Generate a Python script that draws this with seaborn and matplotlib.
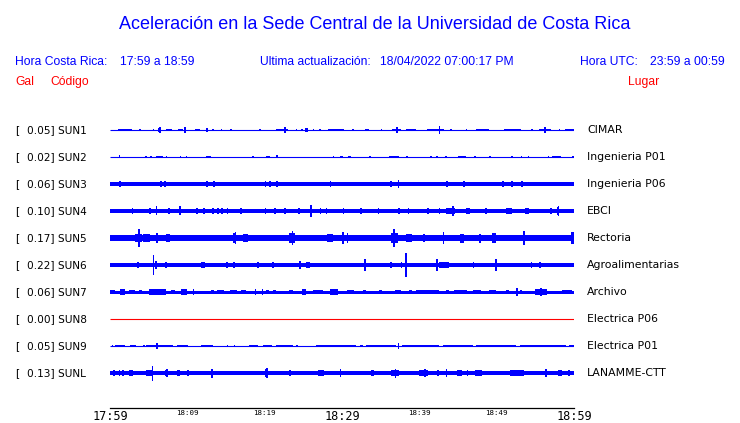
"""
Sismograma de aceleracion - Sede Central UCR (ultima hora).
Recreacion estatica con seaborn / matplotlib.
"""

import matplotlib
matplotlib.use("Agg")
import matplotlib.pyplot as plt
import matplotlib.transforms as mtransforms
import seaborn as sns

sns.set_style("white")
plt.rcParams["font.family"] = ["DejaVu Sans"]
plt.rcParams["text.color"] = "black"
plt.rcParams["xtick.color"] = "black"

# --- datos -------------------------------------------------------------
STATIONS = ["SUN1", "SUN2", "SUN3", "SUN4", "SUN5", "SUN6", "SUN7", "SUN8", "SUN9", "SUNL"]
PEAK_GAL = [0.05, 0.02, 0.06, 0.10, 0.17, 0.22, 0.06, 0.00, 0.05, 0.13]
PLACES = ["CIMAR", "Ingenieria P01", "Ingenieria P06", "EBCI", "Rectoria",
          "Agroalimentarias", "Archivo", "Electrica P06", "Electrica P01", "LANAMME-CTT"]
# semi-amplitud del ruido de fondo (Gal)
BASE_GAL = [0.0, 0.0, 0.027, 0.031, 0.045, 0.027, 0.025, 0.0, 0.0, 0.027]

TIME_TICKS = list(range(0, 61, 5))  # minutos desde 17:59
TIME_LABELS = ["17:59", "", "18:09", "", "18:19", "", "18:29", "", "18:39", "", "18:49", "", "18:59"]

# rafagas: (minuto inicio, minuto fin, semi-amplitud Gal)
SUN1_BURSTS = [(1.0, 2.8, 0.02), (3.8, 3.8, 0.017), (5.5, 5.5, 0.017), (6.2, 6.5, 0.04),
               (6.35, 6.35, 0.05), (7.2, 8.0, 0.02), (8.8, 9.4, 0.02), (9.6, 9.6, 0.05),
               (11.0, 11.6, 0.02), (12.4, 12.7, 0.035), (13.2, 13.2, 0.017), (14.3, 14.3, 0.017),
               (15.5, 15.5, 0.017), (19.3, 19.3, 0.017), (21.5, 23.0, 0.02), (22.5, 22.5, 0.05),
               (24.0, 24.0, 0.017), (24.7, 24.7, 0.017), (25.2, 25.6, 0.035), (26.2, 26.2, 0.017),
               (27.0, 27.0, 0.017), (28.2, 30.3, 0.02), (31.3, 31.6, 0.02), (33.0, 33.5, 0.02),
               (35.0, 35.0, 0.017), (36.5, 37.6, 0.02), (37.0, 37.0, 0.042), (38.3, 39.6, 0.02),
               (41.0, 43.2, 0.02), (42.5, 42.5, 0.067), (44.0, 44.0, 0.017), (46.0, 46.0, 0.017),
               (47.3, 49.0, 0.02), (51.0, 53.2, 0.02), (54.5, 54.5, 0.017), (55.5, 57.0, 0.02),
               (56.1, 56.1, 0.05), (58.0, 58.0, 0.017), (58.8, 60.0, 0.02)]
SUN2_BURSTS = [(1.1, 1.1, 0.025), (4.5, 4.5, 0.012), (5.2, 5.2, 0.012), (6.0, 6.9, 0.02),
               (7.2, 7.2, 0.017), (9.0, 9.0, 0.017), (9.8, 9.8, 0.017), (12.4, 13.0, 0.024),
               (18.4, 18.4, 0.012), (20.2, 20.7, 0.02), (21.5, 21.5, 0.025), (28.8, 28.8, 0.012),
               (29.7, 30.1, 0.012), (30.8, 31.2, 0.02), (33.5, 33.5, 0.012), (36.1, 37.4, 0.022),
               (38.3, 38.3, 0.017), (41.4, 41.4, 0.012), (42.2, 42.2, 0.012), (43.3, 43.3, 0.012),
               (45.0, 46.0, 0.015), (47.1, 47.1, 0.012), (49.0, 49.0, 0.012), (51.9, 51.9, 0.017),
               (53.1, 53.1, 0.017), (54.0, 54.0, 0.012), (56.6, 56.6, 0.022), (57.2, 58.3, 0.018),
               (59.8, 59.8, 0.012)]
SUN3_BURSTS = [(1.2, 1.2, 0.052), (6.45, 6.45, 0.052), (7.0, 7.0, 0.045), (12.4, 12.7, 0.05),
               (13.3, 13.3, 0.045), (18.6, 18.6, 0.04), (20.0, 20.0, 0.045), (20.6, 20.6, 0.052),
               (21.5, 21.7, 0.052), (28.4, 28.4, 0.045), (29.7, 29.7, 0.04), (31.2, 31.2, 0.04),
               (31.9, 31.9, 0.04), (33.5, 33.5, 0.04), (36.2, 36.2, 0.045), (37.2, 37.4, 0.065),
               (38.1, 39.0, 0.04), (40.9, 40.9, 0.04), (43.5, 43.5, 0.045), (45.7, 45.7, 0.045),
               (46.8, 46.8, 0.04), (48.5, 48.5, 0.04), (50.7, 50.7, 0.045), (51.9, 51.9, 0.045),
               (53.2, 53.2, 0.052), (55.1, 55.1, 0.04), (56.3, 57.2, 0.04), (58.5, 58.5, 0.04)]
SUN4_BURSTS = [(2.8, 2.8, 0.058), (5.1, 5.1, 0.045), (5.9, 5.9, 0.075), (7.5, 7.5, 0.045),
               (8.9, 8.9, 0.075), (11.1, 11.1, 0.045), (12.0, 12.0, 0.045), (13.2, 13.2, 0.045),
               (13.9, 13.9, 0.045), (14.4, 14.4, 0.045), (15.1, 15.1, 0.045), (16.8, 17.0, 0.045),
               (20.0, 20.0, 0.045), (21.2, 21.2, 0.045), (22.5, 22.5, 0.045), (24.3, 24.3, 0.045),
               (25.8, 26.0, 0.06), (25.9, 25.9, 0.092), (27.1, 27.1, 0.045), (27.9, 27.9, 0.045),
               (30.1, 30.1, 0.045), (32.3, 32.6, 0.05), (34.6, 34.8, 0.055), (37.3, 37.3, 0.045),
               (38.5, 38.5, 0.045), (41.0, 41.0, 0.045), (42.5, 42.5, 0.05), (43.5, 44.6, 0.048),
               (44.2, 44.2, 0.083), (46.0, 46.5, 0.05), (48.5, 48.5, 0.05), (51.2, 52.0, 0.048),
               (53.6, 54.2, 0.05), (56.9, 56.9, 0.045), (57.8, 58.0, 0.06), (57.9, 57.9, 0.083)]
SUN5_BURSTS = [(0.2, 1.9, 0.055), (2.6, 2.8, 0.058), (3.2, 4.1, 0.07), (3.6, 3.6, 0.15),
               (4.3, 5.2, 0.06), (6.0, 6.0, 0.083), (7.3, 7.7, 0.06), (9.2, 9.2, 0.058),
               (11.4, 12.9, 0.055), (13.5, 13.5, 0.055), (15.9, 16.3, 0.08), (16.1, 16.1, 0.1),
               (17.2, 17.9, 0.065), (18.7, 19.0, 0.058), (21.5, 22.1, 0.055), (23.2, 23.9, 0.09),
               (23.5, 23.5, 0.117), (24.7, 24.7, 0.055), (25.4, 25.4, 0.055), (28.0, 28.8, 0.06),
               (30.0, 30.0, 0.1), (30.6, 30.6, 0.083), (32.1, 32.1, 0.058), (34.2, 34.2, 0.055),
               (36.3, 37.2, 0.085), (36.6, 36.6, 0.142), (38.3, 39.0, 0.06), (40.5, 40.5, 0.067),
               (43.0, 43.0, 0.092), (45.2, 45.8, 0.075), (47.7, 47.7, 0.075), (49.4, 49.9, 0.085),
               (53.4, 53.4, 0.117), (55.9, 55.9, 0.055), (57.2, 57.2, 0.058), (59.6, 60.0, 0.1)]
SUN6_BURSTS = [(3.5, 3.7, 0.045), (5.5, 5.5, 0.167), (5.8, 5.8, 0.06), (7.1, 7.1, 0.045),
               (7.9, 7.9, 0.04), (11.8, 12.3, 0.05), (15.0, 15.0, 0.045), (15.9, 15.9, 0.045),
               (19.0, 19.0, 0.045), (21.0, 21.0, 0.052), (24.5, 24.5, 0.067), (25.4, 25.8, 0.045),
               (27.0, 27.0, 0.04), (31.5, 31.5, 0.04), (32.9, 32.9, 0.108), (36.2, 36.5, 0.05),
               (37.6, 37.6, 0.045), (38.2, 38.2, 0.192), (42.2, 42.2, 0.108), (42.6, 43.9, 0.05),
               (46.9, 46.9, 0.045), (49.8, 49.8, 0.1), (54.4, 54.4, 0.052), (55.5, 55.5, 0.045)]
SUN7_BURSTS = [(0.0, 0.6, 0.04), (1.3, 1.9, 0.045), (1.6, 1.6, 0.058), (2.4, 3.2, 0.035),
               (3.7, 4.1, 0.04), (5.0, 7.3, 0.042), (5.5, 5.5, 0.058), (7.9, 8.4, 0.04),
               (9.2, 9.9, 0.045), (10.7, 10.7, 0.058), (13.1, 13.5, 0.04), (13.9, 14.8, 0.04),
               (15.5, 16.4, 0.035), (16.9, 17.6, 0.04), (18.7, 18.7, 0.05), (19.6, 19.6, 0.058),
               (20.2, 20.6, 0.035), (21.1, 21.5, 0.04), (23.2, 23.6, 0.04), (24.8, 25.3, 0.045),
               (26.2, 27.5, 0.04), (28.4, 29.5, 0.045), (29.0, 29.0, 0.058), (30.6, 31.6, 0.04),
               (32.7, 33.1, 0.035), (34.8, 35.2, 0.04), (36.8, 37.6, 0.04), (38.6, 39.0, 0.035),
               (39.6, 42.6, 0.04), (43.5, 43.9, 0.04), (44.5, 46.1, 0.04), (46.9, 48.0, 0.04),
               (49.0, 49.9, 0.04), (51.2, 51.6, 0.04), (52.5, 52.5, 0.067), (53.0, 53.3, 0.04),
               (54.9, 56.5, 0.05), (55.6, 55.6, 0.067), (58.5, 59.8, 0.04)]
SUN8_BURSTS = []
SUN9_BURSTS = [(0.2, 0.2, 0.017), (0.6, 1.9, 0.018), (2.6, 3.4, 0.018), (4.3, 4.3, 0.017),
               (4.7, 8.2, 0.018), (6.0, 6.0, 0.042), (8.6, 10.1, 0.018), (11.8, 13.3, 0.018),
               (15.1, 15.1, 0.02), (16.0, 16.0, 0.017), (18.0, 19.1, 0.018), (19.8, 21.0, 0.018),
               (21.5, 23.6, 0.018), (24.1, 24.1, 0.017), (26.7, 31.8, 0.018), (32.3, 32.7, 0.018),
               (33.1, 37.0, 0.018), (37.2, 37.2, 0.05), (37.8, 42.6, 0.018), (43.0, 46.9, 0.018),
               (47.3, 52.5, 0.018), (53.0, 59.0, 0.018), (59.4, 60.0, 0.018)]
SUNL_BURSTS = [(0.4, 0.4, 0.045), (1.1, 1.3, 0.058), (1.6, 1.6, 0.05), (2.4, 3.0, 0.045),
               (3.7, 3.7, 0.04), (4.7, 5.6, 0.05), (5.4, 5.4, 0.125), (7.1, 7.5, 0.052),
               (7.3, 7.3, 0.062), (8.6, 9.0, 0.045), (10.0, 10.0, 0.058), (11.4, 11.4, 0.04),
               (13.1, 13.3, 0.075), (14.4, 14.4, 0.04), (19.0, 19.0, 0.04), (20.0, 20.4, 0.06),
               (20.2, 20.2, 0.083), (21.9, 21.9, 0.04), (23.2, 23.2, 0.045), (26.9, 27.7, 0.052),
               (28.8, 28.8, 0.04), (29.7, 29.9, 0.067), (31.4, 31.4, 0.04), (33.7, 34.2, 0.058),
               (36.3, 37.4, 0.055), (36.8, 36.8, 0.075), (38.9, 38.9, 0.04), (40.0, 41.1, 0.052),
               (40.6, 40.6, 0.067), (42.3, 42.3, 0.045), (43.4, 43.4, 0.067), (44.9, 45.5, 0.05),
               (46.1, 46.3, 0.058), (47.2, 48.1, 0.045), (49.9, 49.9, 0.04), (51.7, 53.5, 0.045),
               (56.3, 56.3, 0.067), (57.9, 58.5, 0.05), (59.2, 59.2, 0.05)]

BURSTS = [SUN1_BURSTS, SUN2_BURSTS, SUN3_BURSTS, SUN4_BURSTS, SUN5_BURSTS,
          SUN6_BURSTS, SUN7_BURSTS, SUN8_BURSTS, SUN9_BURSTS, SUNL_BURSTS]

# --- estilo / geometria ------------------------------------------------
W, H, DPI = 740, 423, 100
BLUE, RED = "#0000ff", "#ff0000"
HEAD_FONT = ["Liberation Sans", "DejaVu Sans"]
ROW = 0.45          # separacion entre trazas (Gal)
MIN_W = 0.22        # ancho minimo de una rafaga (min)
X0, X1 = 110, 574   # px del eje de tiempo
Y_AX, Y_TOP, Y_FIRST = 408, 115, 130


def fx(px):
    return px / W


def fy(py):
    return 1 - py / H


fig = plt.figure(figsize=(W / DPI, H / DPI), dpi=DPI)
ax = fig.add_axes([fx(X0), fy(Y_AX), (X1 - X0) / W, (Y_AX - Y_TOP) / H])

px_gal = ROW / 27.0
ax.set_xlim(0, 60)
ax.set_ylim((Y_AX - Y_FIRST) * px_gal, (Y_TOP - Y_FIRST) * px_gal)

for i, code in enumerate(STATIONS):
    yc = i * ROW
    col = RED if PEAK_GAL[i] == 0 else BLUE
    ax.plot([0, 60], [yc, yc], color=col, lw=0.8, solid_capstyle="butt")
    if BASE_GAL[i] > 0:
        ax.fill_between([0, 60], yc - BASE_GAL[i], yc + BASE_GAL[i], color=col, lw=0)
    bursts = BURSTS[i]
    if bursts:
        starts = [b[0] for b in bursts]
        widths = [max(b[1] - b[0], MIN_W) for b in bursts]
        amps = [b[2] for b in bursts]
        ax.bar(starts, [2 * a for a in amps], width=widths,
               bottom=[yc - a for a in amps], align="edge", color=col, lw=0)

# etiquetas de estacion (izquierda) y lugar (derecha)
trans = mtransforms.blended_transform_factory(fig.transFigure, ax.transData)
for i, code in enumerate(STATIONS):
    yc = i * ROW
    ax.text(fx(15), yc, "[", transform=trans, fontsize=7.8, va="center",
            color="black", clip_on=False)
    ax.text(fx(27), yc, f"{PEAK_GAL[i]:.2f}] {code}", transform=trans,
            fontsize=7.6, va="center", color="black", clip_on=False)
    ax.text(fx(587), yc, PLACES[i], transform=trans, fontsize=7.8,
            va="center", color="black", clip_on=False)

# eje de tiempo
sns.despine(ax=ax, left=True, top=True, right=True)
ax.spines["bottom"].set_linewidth(0.9)
ax.spines["bottom"].set_color("black")
ax.set_yticks([])
ax.set_xticks(TIME_TICKS)
ax.set_xticklabels(TIME_LABELS, family="DejaVu Sans Mono")
ax.tick_params(axis="x", direction="in", length=5.5, width=0.9, color="black",
               labelcolor="black", pad=1.5)
for lab in ax.get_xticklabels():
    lab.set_fontsize(8.6 if lab.get_text() in ("17:59", "18:29", "18:59") else 5.4)
    lab.set_verticalalignment("top")

# encabezado
fig.text(0.507, fy(29), "Aceleración en la Sede Central de la Universidad de Costa Rica",
         ha="center", va="baseline", color=BLUE, fontsize=13.0, family=HEAD_FONT)
for px, txt in [(15, "Hora Costa Rica:"), (120, "17:59 a 18:59"),
                (260, "Ultima actualización:"), (380, "18/04/2022 07:00:17 PM"),
                (580, "Hora UTC:"), (650, "23:59 a 00:59")]:
    fig.text(fx(px), fy(65), txt, color=BLUE, fontsize=8.7, va="baseline", family=HEAD_FONT)
for px, txt in [(15, "Gal"), (50, "Código"), (628, "Lugar")]:
    fig.text(fx(px), fy(85), txt, color=RED, fontsize=8.7, va="baseline", family=HEAD_FONT)

fig.savefig("out.png", dpi=DPI)
plt.close(fig)
